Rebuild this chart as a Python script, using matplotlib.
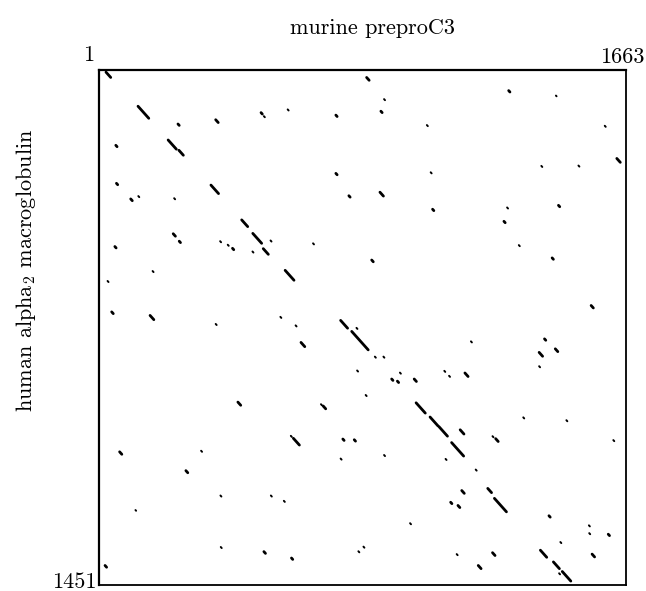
import matplotlib
matplotlib.use("Agg")
import matplotlib.pyplot as plt

plt.rcParams['mathtext.fontset'] = 'cm'
plt.rcParams['axes.unicode_minus'] = False

len_x = 1663   # murine preproC3
len_y = 1451   # human alpha2 macroglobulin

# matching runs: start in C3 (x), start in alpha2M (y), run length (residues)
match_x = [23, 124, 219, 253, 250, 369, 512, 521, 596, 748,
           54, 748, 56, 101, 125, 238, 354, 789, 451, 486,
           519, 235, 254, 542, 676, 383, 407, 422, 485, 51,
           588, 170, 28, 41, 162, 573, 845, 900, 890, 1293,
           1442, 1035, 1596, 1634, 1396, 1513, 1047, 887, 1053, 1288,
           1450, 1278, 1325, 1430, 861, 1553, 369, 621, 763, 798,
           813, 638, 815, 439, 701, 708, 871, 898, 1174, 1406,
           1389, 1440, 1389, 950, 924, 942, 995, 1090, 1105, 1155,
           842, 1001, 1045, 1073, 1113, 1140, 1242, 1252, 1339, 1475,
           1623, 900, 1094, 1189, 1145, 1227, 1248, 1110, 1133, 1420,
           982, 1546, 1547, 1607, 1456, 835, 1129, 1242, 1393, 1556,
           1434, 1462, 1452, 1197, 606, 614, 770, 806, 763, 66,
           323, 275, 116, 384, 543, 584, 385, 521, 608, 819,
           20]
match_y = [7, 103, 198, 227, 153, 141, 121, 131, 112, 128,
           213, 292, 320, 364, 356, 362, 325, 355, 423, 461,
           504, 462, 483, 481, 489, 483, 493, 503, 512, 498,
           565, 567, 595, 682, 692, 696, 22, 83, 117, 59,
           73, 156, 158, 250, 271, 270, 289, 345, 393, 388,
           382, 427, 494, 530, 536, 664, 716, 720, 706, 737,
           727, 768, 847, 936, 942, 947, 808, 808, 765, 758,
           796, 786, 835, 853, 871, 877, 871, 848, 862, 854,
           916, 938, 978, 1005, 1050, 1014, 1032, 1039, 979, 987,
           1043, 1085, 1096, 1126, 1185, 1179, 1207, 1218, 1227, 1256,
           1277, 1283, 1305, 1308, 1330, 1343, 1364, 1360, 1353, 1364,
           1386, 1413, 1418, 1396, 1031, 1038, 1040, 1042, 1095, 1076,
           1073, 1129, 1240, 1199, 1199, 1214, 1344, 1357, 1375, 1356,
           1396]
match_len = [15, 34, 26, 14, 4, 8, 4, 3, 3, 4,
             4, 4, 4, 5, 3, 3, 24, 4, 19, 28,
             16, 7, 4, 3, 3, 3, 3, 4, 3, 4,
             28, 3, 3, 5, 12, 3, 8, 3, 4, 4,
             2, 3, 3, 11, 3, 3, 3, 11, 4, 3,
             4, 4, 3, 4, 5, 7, 3, 3, 22, 52,
             3, 12, 3, 9, 3, 8, 3, 3, 3, 4,
             11, 8, 3, 3, 4, 4, 7, 3, 3, 10,
             3, 29, 25, 27, 38, 12, 3, 8, 3, 3,
             3, 3, 3, 3, 8, 12, 38, 4, 6, 4,
             3, 3, 3, 4, 3, 3, 3, 8, 20, 8,
             19, 27, 3, 9, 3, 19, 4, 4, 3, 7,
             3, 6, 2, 3, 3, 3, 3, 5, 4, 3,
             5]

fig = plt.figure(figsize=(6.46, 5.91), dpi=100)
ax = fig.add_axes([99/646, 1 - 585/591, 527/646, 515/591])

for x0, y0, n in zip(match_x, match_y, match_len):
    lw = 2.0 if n > 3 else 1.4
    ax.plot([x0, x0 + n], [y0, y0 + n], color='black', lw=lw,
            solid_capstyle='round')

ax.set_xlim(1, len_x)
ax.set_ylim(len_y, 1)
ax.set_xticks([])
ax.set_yticks([])
for side in ['top', 'left']:
    ax.spines[side].set_linewidth(1.6)
for side in ['right', 'bottom']:
    ax.spines[side].set_linewidth(1.3)

font = dict(fontname='cmr10', fontsize=16, color='black')
fig.text(372/646, 1 - 28/591, 'murine preproC3', ha='center', va='center', **font)
fig.text(94/646, 1 - 61/591, '1', ha='right', va='baseline', **font)
fig.text(645/646, 1 - 63/591, str(len_x), ha='right', va='baseline', **font)
fig.text(97/646, 1 - 588/591, str(len_y), ha='right', va='baseline', **font)
fig.text(26/646, 1 - 270/591, r'human alpha$_2$ macroglobulin', rotation=90,
         ha='center', va='center', **font)

fig.savefig('out.png', dpi=100)
